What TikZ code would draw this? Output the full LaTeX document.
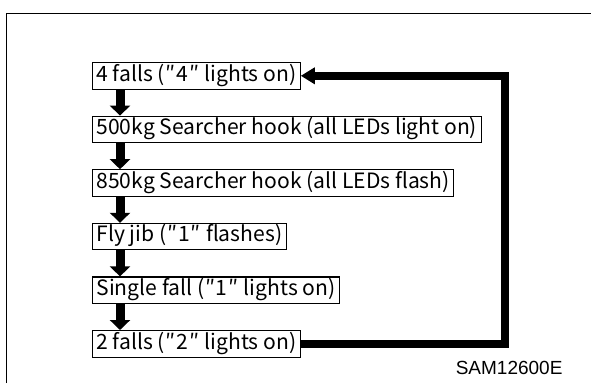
\documentclass[tikz,border=0pt]{standalone}
\usepackage{fontspec}
\usepackage{tikz}
\usetikzlibrary{
    positioning,
    arrows.meta
}
\newfontfamily\boxfont{Noto Sans CJK JP}
\newfontfamily\codefont{Liberation Sans}
\newcommand{\dq}{\makebox[0.55em][c]{″}}

\tikzset{
    modebox/.style={
        draw,
        line width=1.1pt,
        inner xsep=4pt,
        inner ysep=4pt,
        text height=14.5pt,
        text depth=4pt,
        font=\boxfont\fontsize{21.1pt}{22pt}\selectfont
    },
    downarrow/.style={
        line width=9pt,
        -{Triangle[width=20pt,length=10pt]}
    },
    looparrow/.style={
        line width=8pt,
        miter limit=10,
        -{Triangle[width=16pt,length=14pt]}
    }
}

\begin{document}
\begin{tikzpicture}[x=1pt,y=-1pt]

    \useasboundingbox (0,0) rectangle (591,383);

    % outer frame
    \draw[line width=1.3pt] (6.7,383) |- (591,13.3);

    \node[modebox, anchor=north west] (four) at (92,62) {4 falls (\dq4\dq\ lights on)};
    \node[modebox, below=26pt of four.south west, anchor=north west] (fivehundred)
        {500kg Searcher hook (all LEDs light on)};
    \node[modebox, below=26pt of fivehundred.south west, anchor=north west] (eightfifty)
        {850kg Searcher hook (all LEDs flash)};
    \node[modebox, below=26pt of eightfifty.south west, anchor=north west] (flyjib)
        {Fly jib (\dq1\dq\ flashes)};
    \node[modebox, below=26pt of flyjib.south west, anchor=north west] (single)
        {Single fall (\dq1\dq\ lights on)};
    \node[modebox, below=26pt of single.south west, anchor=north west] (two)
        {2 falls (\dq2\dq\ lights on)};

    \foreach \a/\b in {four/fivehundred, fivehundred/eightfifty, eightfifty/flyjib,
                       flyjib/single, single/two}
        \draw[downarrow] ([xshift=28pt]\a.south west) -- ([xshift=28pt]\b.north west);

    % back to the top
    \draw[looparrow] (two.east) -- (505,0 |- two.east) |- (four.east);

    \node[font=\codefont\fontsize{19pt}{21pt}\selectfont, anchor=base east] (code)
        at (566,374) {SAM12600E};

\end{tikzpicture}
\end{document}
